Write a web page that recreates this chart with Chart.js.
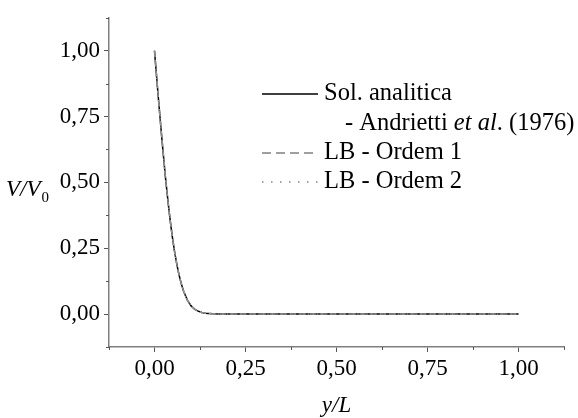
<!DOCTYPE html>
<html>
<head>
<meta charset="utf-8">
<script src="https://cdn.jsdelivr.net/npm/chart.js@4.4.1/dist/chart.umd.min.js"></script>
<style>
html,body{margin:0;padding:0;background:#ffffff;}
#wrap{width:578px;height:418px;position:relative;}
</style>
</head>
<body>
<div id="wrap"><canvas id="c" width="578" height="418"></canvas></div>
<script>
// ---- data ----
const xValues = [0,0.005,0.01,0.015,0.02,0.025,0.03,0.035,0.04,0.045,0.05,
  0.055,0.06,0.065,0.07,0.075,0.08,0.09,0.10,0.11,0.12,0.13,0.14,0.16,0.18,0.20,
  0.25,0.30,0.35,0.40,0.45,0.50,0.55,0.60,0.65,0.70,0.75,0.80,0.85,0.90,0.95,1.00];
const solValues = [1.000,0.915,0.830,0.750,0.670,0.595,0.520,0.455,0.392,0.335,0.284,
  0.238,0.199,0.164,0.134,0.109,0.087,0.054,0.032,0.019,0.011,0.006,0.003,0.001,0.0003,0.0001,
  0,0,0,0,0,0,0,0,0,0,0,0,0,0,0,0];
const lb1Values = [1.000,0.915,0.830,0.750,0.670,0.595,0.520,0.455,0.392,0.335,0.284,
  0.238,0.199,0.164,0.134,0.109,0.087,0.054,0.032,0.019,0.011,0.006,0.003,0.001,0.0003,0.0001,
  0,0,0,0,0,0,0,0,0,0,0,0,0,0,0,0];
const lb2Values = [1.000,0.915,0.830,0.750,0.670,0.595,0.520,0.455,0.392,0.335,0.284,
  0.238,0.199,0.164,0.134,0.109,0.087,0.054,0.032,0.019,0.011,0.006,0.003,0.001,0.0003,0.0001,
  0,0,0,0,0,0,0,0,0,0,0,0,0,0,0,0];
const seriesNames = ['Sol. analitica', 'LB - Ordem 1', 'LB - Ordem 2'];
const xTitle = 'y/L';
const yTitleMain = 'V/V';
const yTitleSub = '0';
const tickStep = 0.125;
const axisMin = -0.125;
const axisMax = 1.125;

const toPts = (vals) => xValues.map((x, i) => ({x: x, y: vals[i]}));
const SERIF = '"Liberation Serif", "Times New Roman", serif';
const fmt = (v) => {
  const q = v / 0.25;
  if (Math.abs(q - Math.round(q)) > 1e-6 || v < -1e-9 || v > 1 + 1e-9) return '';
  return v.toFixed(2).replace('.', ',');
};
const isMinor = (v) => { const q = v / 0.25; return Math.abs(q - Math.round(q)) > 1e-6; };

const minorTicks = {
  id: 'minorTicks',
  afterDraw(chart) {
    const ctx = chart.ctx;
    const xs = chart.scales.x, ys = chart.scales.y;
    ctx.save();
    ctx.strokeStyle = '#555555';
    ctx.lineWidth = 1;
    xs.ticks.forEach(t => {
      if (!isMinor(t.value)) return;
      const px = Math.round(xs.getPixelForValue(t.value)) + 0.5;
      ctx.beginPath(); ctx.moveTo(px, xs.top); ctx.lineTo(px, xs.top + 3); ctx.stroke();
    });
    ys.ticks.forEach(t => {
      if (!isMinor(t.value)) return;
      const py = Math.round(ys.getPixelForValue(t.value)) + 0.5;
      ctx.beginPath(); ctx.moveTo(ys.right, py); ctx.lineTo(ys.right - 3, py); ctx.stroke();
    });
    ctx.restore();
  }
};

const extras = {
  id: 'extras',
  afterDraw(chart) {
    const ctx = chart.ctx;
    const ys = chart.scales.y;
    ctx.save();
    ctx.fillStyle = '#000000';
    ctx.textBaseline = 'alphabetic';
    // y axis title (horizontal) near the 0,50 label
    const yb = ys.getPixelForValue(0.5) + 14;
    ctx.font = 'italic 23px ' + SERIF;
    ctx.textAlign = 'left';
    const w = ctx.measureText(yTitleMain).width;
    const x0 = 6;
    ctx.fillText(yTitleMain, x0, yb);
    ctx.font = '15px ' + SERIF;
    ctx.fillText(yTitleSub, x0 + w + 1, yb + 6);

    // legend
    const lx1 = 262, lx2 = 318, tx = 324;
    const rows = [100, 130, 159, 188];
    const styles = [
      {color: '#000000', dash: [], width: 1.5},
      {color: '#808080', dash: [9, 5], width: 1.5},
      {color: '#888888', dash: [1.5, 7.5], width: 1.5}
    ];
    const lineRows = [0, 2, 3];
    ctx.font = '24.5px ' + SERIF;
    for (let i = 0; i < 3; i++) {
      const s = styles[i];
      const by = rows[lineRows[i]];
      ctx.save();
      ctx.strokeStyle = s.color; ctx.lineWidth = s.width; ctx.setLineDash(s.dash);
      ctx.beginPath(); ctx.moveTo(lx1, by - 6); ctx.lineTo(lx2, by - 6); ctx.stroke();
      ctx.restore();
      ctx.fillText(seriesNames[i], tx, by);
    }
    // second line of the first entry, with italic "et al"
    const segs = [['- Andrietti ', ''], ['et al', 'italic '], ['. (1976)', '']];
    let cx = 345;
    segs.forEach(([t, st]) => {
      ctx.font = st + '24.5px ' + SERIF;
      ctx.fillText(t, cx, rows[1]);
      cx += ctx.measureText(t).width;
    });
    ctx.restore();
  }
};

new Chart(document.getElementById('c'), {
  type: 'line',
  data: {
    datasets: [
      {label: seriesNames[0], data: toPts(solValues), borderColor: '#000000', borderWidth: 1.5,
       pointRadius: 0, tension: 0, fill: false, order: 3},
      {label: seriesNames[1], data: toPts(lb1Values), borderColor: '#8a8a8a', borderWidth: 1.5,
       borderDash: [6, 4], pointRadius: 0, tension: 0, fill: false, order: 2},
      {label: seriesNames[2], data: toPts(lb2Values), borderColor: '#9a9a9a', borderWidth: 1.2,
       borderDash: [1.5, 3], pointRadius: 0, tension: 0, fill: false, order: 1}
    ]
  },
  options: {
    responsive: false,
    animation: false,
    devicePixelRatio: 1,
    layout: {padding: {top: 11, right: 14, bottom: 0, left: 0}},
    plugins: {legend: {display: false}, tooltip: {enabled: false}, title: {display: false}},
    scales: {
      x: {
        type: 'linear', min: axisMin, max: axisMax,
        border: {display: true, color: '#7f7f7f', width: 1.5},
        grid: {drawOnChartArea: false, drawTicks: true, tickLength: 5,
               tickColor: (c) => (c.tick && isMinor(c.tick.value)) ? 'rgba(0,0,0,0)' : '#555555'},
        ticks: {stepSize: tickStep, autoSkip: false, maxRotation: 0, padding: 3,
                color: '#000000', font: {family: SERIF, size: 23},
                callback: (v) => fmt(v)},
        title: {display: true, text: xTitle, color: '#000000',
                font: {family: SERIF, size: 23, style: 'italic', lineHeight: 1},
                padding: {top: 0, bottom: 1}},
        afterFit: (s) => { s.height = 71; }
      },
      y: {
        type: 'linear', min: axisMin, max: axisMax,
        border: {display: true, color: '#7f7f7f', width: 1.5},
        grid: {drawOnChartArea: false, drawTicks: true, tickLength: 5,
               tickColor: (c) => (c.tick && isMinor(c.tick.value)) ? 'rgba(0,0,0,0)' : '#555555'},
        ticks: {stepSize: tickStep, autoSkip: false, padding: 4,
                color: '#000000', font: {family: SERIF, size: 23},
                callback: (v) => fmt(v)},
        afterFit: (s) => { s.width = 109; }
      }
    }
  },
  plugins: [minorTicks, extras]
});
</script>
</body>
</html>
